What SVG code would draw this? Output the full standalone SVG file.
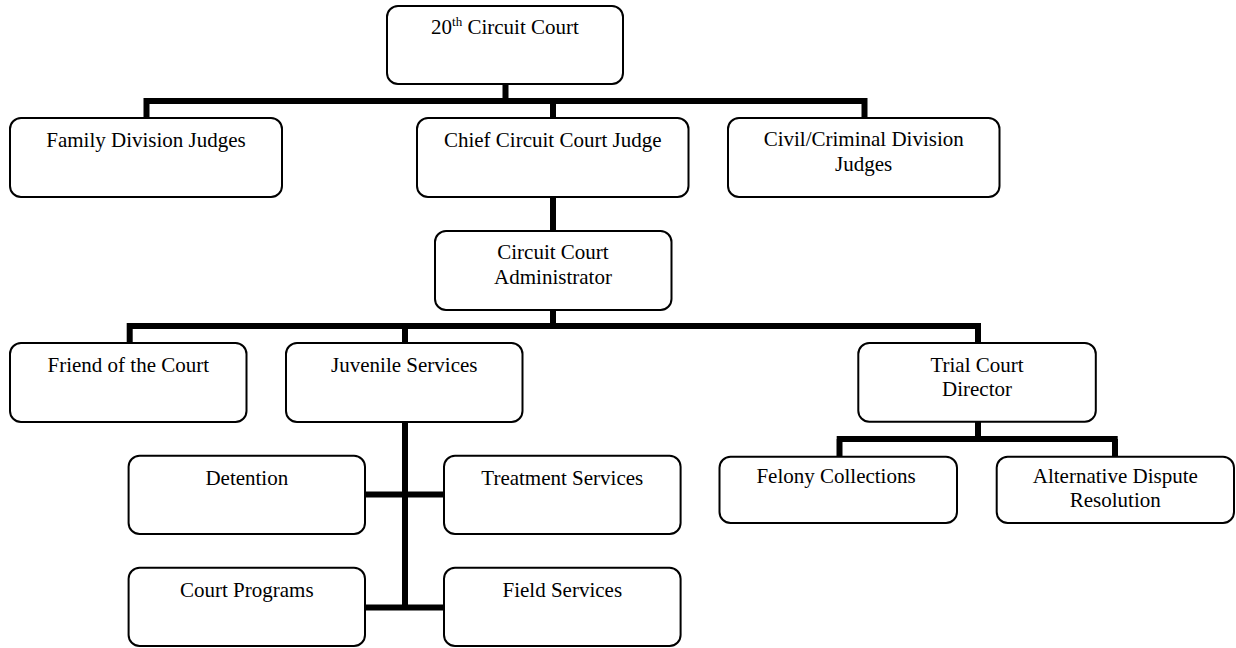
<svg xmlns="http://www.w3.org/2000/svg" width="1236" height="648" viewBox="0 0 1236 648">
<style>
.box{fill:#fff;stroke:#000;stroke-width:2}
.lbl{font-family:"Liberation Serif","Times New Roman",serif;font-size:21px;fill:#000;text-anchor:middle}
.con{fill:none;stroke:#000;stroke-width:6;stroke-linecap:butt}
</style>
<rect width="1236" height="648" fill="#fff"/>
<g id="connectors">
<path class="con" d="M505.5 84V101M143.5 101H867.5M146.5 101V118M553 101V118M864.5 101V118"/>
<path class="con" d="M553 197V231M553 310V326M126.7 326H981M129.7 326V343M405 326V343M978 326V343"/>
<path class="con" d="M405 422V610M365 494.5H444M365 607.5H444"/>
<path class="con" d="M978 421.7V439M836.7 439H1117.7M839.5 439V456.7M1115 439V456.7"/>
</g>
<g id="circuit-court"><rect class="box" x="387" y="6" width="236" height="78" rx="11"/>
<text class="lbl" x="505" y="34.3"><tspan>20</tspan><tspan dy="-8" font-size="13">th</tspan><tspan dy="8"> Circuit Court</tspan></text></g>
<g id="family-division"><rect class="box" x="10" y="118" width="272" height="79" rx="11"/>
<text class="lbl" x="146" y="146.7">Family Division Judges</text></g>
<g id="chief-judge"><rect class="box" x="417" y="118" width="271.5" height="79" rx="11"/>
<text class="lbl" x="552.7" y="146.7">Chief Circuit Court Judge</text></g>
<g id="civil-criminal"><rect class="box" x="728" y="118" width="271.5" height="79" rx="11"/>
<text class="lbl" x="863.7" y="146"><tspan x="863.7">Civil/Criminal Division</tspan><tspan x="863.7" dy="24.7">Judges</tspan></text></g>
<g id="administrator"><rect class="box" x="435" y="231" width="236.5" height="79" rx="11"/>
<text class="lbl" x="553" y="259.3"><tspan x="553">Circuit Court</tspan><tspan x="553" dy="24.7">Administrator</tspan></text></g>
<g id="friend-of-court"><rect class="box" x="10" y="343" width="236.5" height="79" rx="11"/>
<text class="lbl" x="128.3" y="372.3">Friend of the Court</text></g>
<g id="juvenile-services"><rect class="box" x="286" y="343" width="236.5" height="79" rx="11"/>
<text class="lbl" x="404.3" y="372.3">Juvenile Services</text></g>
<g id="trial-court-director"><rect class="box" x="858.3" y="343" width="237.5" height="78.7" rx="11"/>
<text class="lbl" x="977" y="371.7"><tspan x="977">Trial Court</tspan><tspan x="977" dy="24.5">Director</tspan></text></g>
<g id="detention"><rect class="box" x="128.6" y="455.7" width="236.4" height="78.3" rx="11"/>
<text class="lbl" x="246.8" y="485">Detention</text></g>
<g id="treatment-services"><rect class="box" x="444" y="455.7" width="236.6" height="78.3" rx="11"/>
<text class="lbl" x="562.3" y="485">Treatment Services</text></g>
<g id="court-programs"><rect class="box" x="128.6" y="567.7" width="236.4" height="78.3" rx="11"/>
<text class="lbl" x="246.8" y="596.7">Court Programs</text></g>
<g id="field-services"><rect class="box" x="444" y="567.7" width="236.6" height="78.3" rx="11"/>
<text class="lbl" x="562.3" y="596.7">Field Services</text></g>
<g id="felony-collections"><rect class="box" x="719.5" y="456.7" width="237.5" height="66.3" rx="11"/>
<text class="lbl" x="836" y="482.7">Felony Collections</text></g>
<g id="adr"><rect class="box" x="996.7" y="456.7" width="237.3" height="66.3" rx="11"/>
<text class="lbl" x="1115.3" y="482.7"><tspan x="1115.3">Alternative Dispute</tspan><tspan x="1115.3" dy="24">Resolution</tspan></text></g>
</svg>
